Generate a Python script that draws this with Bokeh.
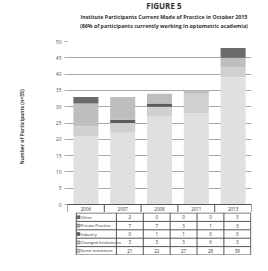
from bokeh.plotting import figure
from bokeh.models import Range1d, FactorRange, ColumnDataSource, FixedTicker, Span
from bokeh.layouts import column
from bokeh.embed import file_html
from bokeh.resources import INLINE
from bokeh.core.properties import value

# ---------------- data ----------------
years = ["2006", "2007", "2008", "2011", "2013"]
same_institution = [21, 22, 27, 28, 39]
changed_institutions = [3, 3, 3, 6, 3]
industry = [0, 1, 1, 0, 0]
private_practice = [7, 7, 3, 1, 3]
other = [2, 0, 0, 0, 3]
y_ticks = [0, 5, 10, 15, 20, 25, 30, 35, 40, 45, 50]
title_lines = ["FIGURE 5",
               "Institute Participants Current Mode of Practice in October 2015",
               "(86% of participants currently working in optometric academia)"]
y_label = "Number of Participants (n=55)"
row_names = ["Other", "Private Practice", "Industry", "Changed Institutions", "Same institution"]

# ---------------- styles ----------------
FONT = "Open Sans"
W = 252
LEFT = 67
RIGHT = 1
stack_keys = ["same", "changed", "industry", "private", "other"]
stack_colors = ["#e0e0e0", "#d0d0d0", "#5c5c5c", "#bebebe", "#6b6b6b"]
row_colors = {"Other": "#6b6b6b", "Private Practice": "#bebebe", "Industry": "#5c5c5c",
              "Changed Institutions": "#d0d0d0", "Same institution": "#e0e0e0"}
LINE = "#555555"
TXT = "#333333"


def bare(f):
    f.axis.visible = False
    f.grid.visible = False
    f.outline_line_color = None
    f.background_fill_color = None
    f.border_fill_color = None


# ---------------- title ----------------
TH = 38
t = figure(width=W, height=TH, x_range=Range1d(0, W), y_range=Range1d(TH, 0),
           output_backend="svg", toolbar_location=None, min_border=0)
bare(t)
tsrc = ColumnDataSource(dict(x=[132, 132, 132], y=[5, 16, 25], text=title_lines,
                             size=["8px", "5.3px", "5.3px"]))
t.text(x="x", y="y", text="text", source=tsrc, text_font=value(FONT),
       text_font_size="size", text_font_style="bold", text_align="center",
       text_baseline="middle", text_color=TXT)

# ---------------- chart ----------------
Y0 = -2.45
p = figure(width=W, height=174, x_range=FactorRange(*years, range_padding=0),
           y_range=Range1d(Y0, 50), output_backend="svg", toolbar_location=None,
           min_border_left=LEFT, min_border_right=RIGHT, min_border_top=3, min_border_bottom=0)
p.outline_line_color = None
p.background_fill_color = None
p.border_fill_color = None
p.xaxis.visible = False
p.xgrid.visible = False
p.yaxis.ticker = FixedTicker(ticks=y_ticks)
p.ygrid.ticker = FixedTicker(ticks=y_ticks)
p.ygrid.grid_line_color = "#a8a8a8"
p.ygrid.grid_line_width = 1
p.yaxis.axis_line_color = None
p.yaxis.major_tick_line_color = "#a8a8a8"
p.yaxis.major_tick_out = 3
p.yaxis.major_tick_in = 0
p.yaxis.minor_tick_line_color = None
p.yaxis.major_label_standoff = 3
p.yaxis.major_label_text_font = FONT
p.yaxis.major_label_text_font_size = "5px"
p.yaxis.major_label_text_color = "#555555"
p.yaxis.axis_label = y_label
p.yaxis.axis_label_text_font = FONT
p.yaxis.axis_label_text_font_size = "5px"
p.yaxis.axis_label_text_font_style = "bold"
p.yaxis.axis_label_text_color = "#444444"
p.yaxis.axis_label_standoff = 28

src = ColumnDataSource(dict(year=years, same=same_institution, changed=changed_institutions,
                            industry=industry, private=private_practice, other=other))
p.vbar_stack(stack_keys, x="year", width=0.68, color=stack_colors, line_color=None, source=src)

# header row of the table (years)
p.add_layout(Span(location=0, dimension="width", line_color=LINE, line_width=1))
bounds = [(years[0], -0.5)] + [(y, 0.5) for y in years]
p.segment(x0=bounds, x1=bounds, y0=[0] * len(bounds), y1=[Y0] * len(bounds),
          line_color=LINE, line_width=1)
p.text(x=years, y=[Y0 / 2] * len(years), text=years, text_font=value(FONT),
       text_font_size="4.5px", text_align="center", text_baseline="middle", text_color=TXT)

# ---------------- table body ----------------
RH = 8.5
TBH = 43
unit = (W - LEFT - RIGHT) / len(years)
xl = -LEFT / unit
xr = len(years) + RIGHT / unit
tb = figure(width=W, height=TBH, x_range=Range1d(xl, xr), y_range=Range1d(TBH, -0.5),
            output_backend="svg", toolbar_location=None, min_border=0)
bare(tb)
L = (12 - LEFT) / unit
nrows = len(row_names)
hy = [i * RH for i in range(nrows + 1)]
tb.segment(x0=[L] * len(hy), x1=[len(years)] * len(hy), y0=hy, y1=hy,
           line_color=LINE, line_width=1)
vx = [L] + list(range(len(years) + 1))
tb.segment(x0=vx, x1=vx, y0=[0] * len(vx), y1=[hy[-1]] * len(vx),
           line_color=LINE, line_width=1)

table_values = [other, private_practice, industry, changed_institutions, same_institution]
cx, cy, ct = [], [], []
for r, vals in enumerate(table_values):
    for c, v in enumerate(vals):
        cx.append(c + 0.5)
        cy.append((r + 0.5) * RH)
        ct.append(str(v))
tb.text(x=cx, y=cy, text=ct, text_font=value(FONT), text_font_size="4.5px",
        text_align="center", text_baseline="middle", text_color=TXT)

ry = [(r + 0.5) * RH for r in range(nrows)]
tb.scatter(x=[L + 0.08] * nrows, y=ry, marker="square", size=3,
           fill_color=[row_colors[n] for n in row_names], line_color="#444444", line_width=0.5)
tb.text(x=[L + 0.16] * nrows, y=ry, text=row_names, text_font=value(FONT),
        text_font_size="4.2px", text_align="left", text_baseline="middle", text_color=TXT)

layout = column(t, p, tb, spacing=0)
open("out.html", "w").write(file_html(layout, INLINE))
